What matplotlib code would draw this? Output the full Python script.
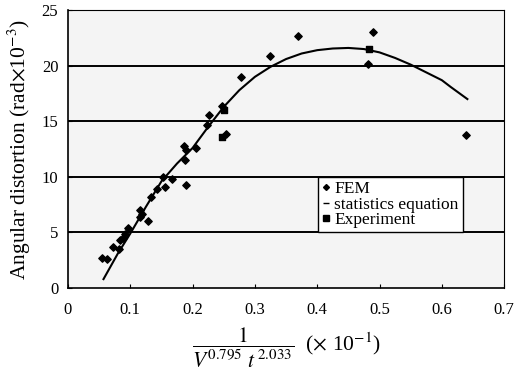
import numpy as np
import matplotlib.pyplot as plt
from matplotlib.lines import Line2D

plt.rcParams['font.family'] = ['Liberation Serif', 'DejaVu Serif']
plt.rcParams['mathtext.fontset'] = 'stix'

# FEM results (diamonds)
fem_x = [0.054, 0.062, 0.073, 0.082, 0.084, 0.089, 0.092, 0.097, 0.116, 0.118,
         0.116, 0.129, 0.134, 0.143, 0.152, 0.156, 0.167, 0.186, 0.188, 0.19,
         0.19, 0.205, 0.223, 0.226, 0.253, 0.247, 0.278, 0.324, 0.369, 0.49,
         0.482, 0.639]
fem_y = [2.7, 2.6, 3.7, 3.5, 4.3, 4.5, 4.9, 5.4, 7.0, 6.7,
         6.4, 6.0, 8.2, 8.9, 10.0, 9.1, 9.8, 12.8, 11.5, 12.4,
         9.3, 12.6, 14.7, 15.6, 13.9, 16.4, 19.0, 20.9, 22.7, 23.0,
         20.2, 13.8]

# experiment (squares)
exp_x = [0.247, 0.25, 0.483]
exp_y = [13.6, 16.0, 21.5]

# statistics equation curve
eq_x = [0.057, 0.08, 0.1, 0.125, 0.15, 0.175, 0.2, 0.225, 0.25, 0.275, 0.3,
        0.325, 0.35, 0.375, 0.4, 0.425, 0.45, 0.475, 0.5, 0.525, 0.55, 0.575,
        0.6, 0.614, 0.641]
eq_y = [0.8, 3.1, 4.9, 7.3, 9.6, 11.2, 12.6, 14.5, 16.3, 17.8, 19.0,
        19.9, 20.6, 21.1, 21.4, 21.55, 21.6, 21.5, 21.2, 20.7, 20.1, 19.4,
        18.7, 18.1, 17.0]

fig = plt.figure(figsize=(5.29, 3.76), dpi=100)
ax = fig.add_axes([0.1285, 0.234, 0.8245, 0.739])
ax.set_facecolor('#f4f4f4')

for yv in [5, 10, 15, 20]:
    ax.axhline(yv, color='black', lw=1.4, zorder=1)

ax.plot(eq_x, eq_y, color='black', lw=1.5, zorder=3)
ax.scatter(fem_x, fem_y, marker='D', s=14, color='black', zorder=4)
ax.scatter(exp_x, exp_y, marker='s', s=22, color='black', zorder=4)

ax.set_xlim(0, 0.7)
ax.set_ylim(0, 25)
ax.set_xticks(np.arange(0, 0.71, 0.1))
ax.set_xticklabels(['0', '0.1', '0.2', '0.3', '0.4', '0.5', '0.6', '0.7'])
ax.set_yticks([0, 5, 10, 15, 20, 25])
ax.tick_params(direction='in', length=3, labelsize=12)
ax.tick_params(axis='x', pad=10)
ax.tick_params(axis='y', pad=7)
for s in ax.spines.values():
    s.set_linewidth(1.2)
ax.spines['top'].set_linewidth(0.8)
ax.spines['right'].set_linewidth(0.8)

ax.set_ylabel(r'Angular distortion (rad$\times$10$^{-3}$)', fontsize=15.5, labelpad=6)
ax.set_xlabel(r'$\dfrac{1}{V^{0.795}\ t^{\,2.033}}$  ($\times$ 10$^{-1}$)',
              fontsize=15.5, labelpad=6)

handles = [Line2D([], [], marker='D', color='black', ls='', markersize=3),
           Line2D([], [], marker='_', color='black', ls='', markersize=4),
           Line2D([], [], marker='s', color='black', ls='', markersize=4)]
leg = ax.legend(handles, ['FEM', 'statistics equation', 'Experiment'],
                loc='upper left', bbox_to_anchor=(0.573, 0.40), fontsize=12.5,
                handlelength=0.4, handletextpad=0.3, borderpad=0.25,
                labelspacing=-0.05, fancybox=False, framealpha=1,
                edgecolor='black', borderaxespad=0)
leg.get_frame().set_linewidth(1.0)

fig.savefig('out.png', dpi=100)
